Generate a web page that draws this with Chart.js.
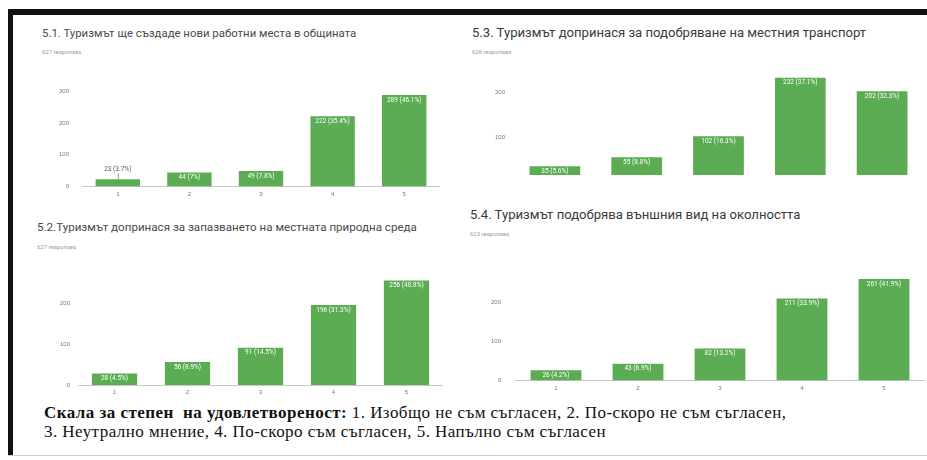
<!DOCTYPE html>
<html>
<head>
<meta charset="utf-8">
<script src="https://cdn.jsdelivr.net/npm/chart.js@4.4.0/dist/chart.umd.min.js"></script>
<style>
    body { margin: 0; width: 927px; height: 460px; background: #fff; position: relative; overflow: hidden; font-family: Roboto, Arial, sans-serif; }
    .frame-top { position: absolute; left: 8px; top: 9px; width: 919px; height: 6px; background: #111; }
    .frame-left { position: absolute; left: 8px; top: 9px; width: 5px; height: 447px; background: #111; }
    .frame-bottom { position: absolute; left: 8px; top: 455px; width: 919px; height: 1px; background: #ccc; }
    .title { position: absolute; color: #3a3a3a; white-space: nowrap; line-height: 1; }
    .resp { position: absolute; color: #9a9a9a; font-size: 6px; white-space: nowrap; line-height: 1; }
    .box { position: absolute; overflow: hidden; }
    .box canvas { position: absolute; left: 0; top: 0; }
    .note { position: absolute; left: 44px; top: 403px; font-family: "Liberation Serif", serif; font-size: 17px; letter-spacing: 0.45px; line-height: 19px; color: #111; white-space: nowrap; }
</style>
</head>
<body>
<div class="frame-top"></div>
<div class="frame-left"></div>
<div class="frame-bottom"></div>

<div class="title" style="left:42px; top:28px; font-size:11.4px; color:#4a4a4a;">5.1. Туризмът ще създаде нови работни места в общината</div>
<div class="resp" style="left:42px; top:49px;">627 responses</div>
<div class="box" style="left:42px; top:75px; width:398px; height:128px;"><canvas id="chart-jobs" width="398" height="128"></canvas></div>

<div class="title" style="left:472px; top:26px; font-size:13.1px;">5.3. Туризмът допринася за подобряване на местния транспорт</div>
<div class="resp" style="left:472px; top:49px;">626 responses</div>
<div class="box" style="left:470px; top:57px; width:453px; height:118px;"><canvas id="chart-transport" width="453" height="141"></canvas></div>

<div class="title" style="left:37px; top:222px; font-size:11.6px; color:#4a4a4a;">5.2.Туризмът допринася за запазването на местната природна среда</div>
<div class="resp" style="left:37px; top:244px;">627 responses</div>
<div class="box" style="left:37px; top:259px; width:406px; height:142px;"><canvas id="chart-nature" width="406" height="142"></canvas></div>

<div class="title" style="left:470px; top:208px; font-size:13.1px;">5.4. Туризмът подобрява външния вид на околността</div>
<div class="resp" style="left:470px; top:231px;">623 responses</div>
<div class="box" style="left:470px; top:254px; width:455px; height:144px;"><canvas id="chart-look" width="455" height="144"></canvas></div>

<div class="note"><b>Скала за степен&nbsp; на удовлетвореност:</b> 1. Изобщо не съм съгласен, 2. По-скоро не съм съгласен,<br>3. Неутрално мнение, 4. По-скоро съм съгласен, 5. Напълно съм съгласен</div>

<script>
// Скала 1..5
const scaleLabels = ['1', '2', '3', '4', '5'];

// 5.1 нови работни места
const jobsValues = [23, 44, 49, 222, 289];
const jobsTotal = 627;
const jobsTicks = [0, 100, 200, 300];

// 5.2 природна среда
const natureValues = [28, 56, 91, 196, 256];
const natureTotal = 627;
const natureTicks = [0, 100, 200];

// 5.3 местен транспорт
const transportValues = [35, 55, 102, 232, 202];
const transportTotal = 626;
const transportTicks = [0, 100, 200];

// 5.4 външен вид
const lookValues = [26, 43, 82, 211, 261];
const lookTotal = 623;
const lookTicks = [0, 100, 200];

const BAR_COLOR = '#5cac53';

function pct(value, total) {
    const p = (value / total * 100).toFixed(1);
    return p.endsWith('.0') ? p.slice(0, -2) : p;
}

// Надписи "брой (процент)" върху колоните
const barLabels = {
    id: 'barLabels',
    afterDatasetsDraw(chart, args, opts) {
        const ctx = chart.ctx;
        const values = chart.data.datasets[0].data;
        ctx.save();
        ctx.font = '6.5px Roboto, Arial, sans-serif';
        ctx.textAlign = 'center';
        ctx.textBaseline = 'middle';
        chart.getDatasetMeta(0).data.forEach((bar, i) => {
            const text = values[i] + ' (' + pct(values[i], opts.total) + '%)';
            if (bar.base - bar.y < 10) {
                // ниска колона - надписът е над нея
                ctx.fillStyle = '#555';
                ctx.fillText(text, bar.x, bar.y - 10);
                ctx.strokeStyle = '#999';
                ctx.lineWidth = 1;
                ctx.beginPath();
                ctx.moveTo(bar.x + 0.5, bar.y - 6);
                ctx.lineTo(bar.x + 0.5, bar.y);
                ctx.stroke();
            } else {
                ctx.fillStyle = '#fff';
                ctx.fillText(text, bar.x, bar.y + 5);
            }
        });
        ctx.restore();
    }
};

function drawPanel(id, values, total, yTicks, yMax, yWidth, yPad) {
    const ctx = document.getElementById(id).getContext('2d');
    new Chart(ctx, {
        type: 'bar',
        data: {
            labels: scaleLabels,
            datasets: [{
                data: values,
                backgroundColor: BAR_COLOR,
                borderWidth: 0,
                barPercentage: 0.62,
                categoryPercentage: 1
            }]
        },
        options: {
            responsive: false,
            animation: false,
            layout: { padding: { top: 8, left: 0, right: 0, bottom: 0 } },
            plugins: {
                legend: { display: false },
                tooltip: { enabled: false },
                barLabels: { total: total }
            },
            scales: {
                x: {
                    grid: { display: false, drawTicks: false },
                    border: { display: true, color: '#c8c8c8', width: 1 },
                    ticks: { color: '#777', font: { size: 6 }, padding: 4 },
                    afterFit: s => { s.height = 16; }
                },
                y: {
                    min: 0,
                    max: yMax,
                    grid: { display: false, drawTicks: false },
                    border: { display: false },
                    ticks: { color: '#777', font: { size: 6 }, padding: yPad },
                    afterBuildTicks: s => { s.ticks = yTicks.map(v => ({ value: v })); },
                    afterFit: s => { s.width = yWidth; }
                }
            }
        },
        plugins: [barLabels]
    });
}

drawPanel('chart-jobs', jobsValues, jobsTotal, jobsTicks, 300, 40, 13);
drawPanel('chart-transport', transportValues, transportTotal, transportTicks, 250, 44, 9);
drawPanel('chart-nature', natureValues, natureTotal, natureTicks, 280, 41, 8);
drawPanel('chart-look', lookValues, lookTotal, lookTicks, 280, 45, 14);
</script>
</body>
</html>
